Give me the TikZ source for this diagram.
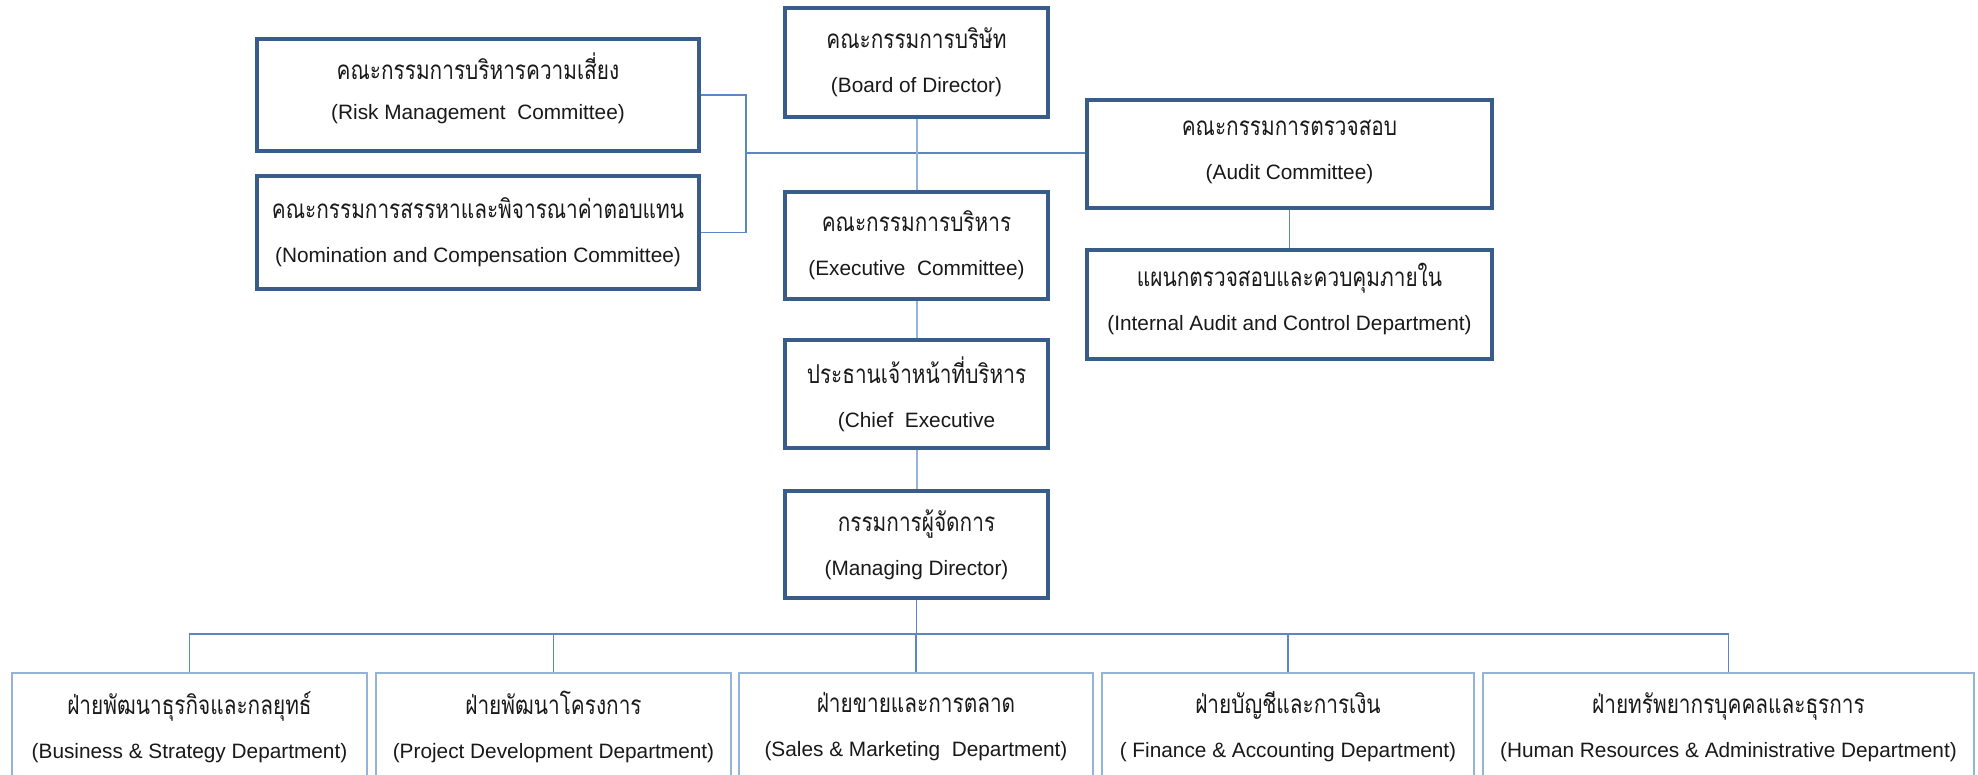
\documentclass[tikz,border=0pt]{standalone}
\usepackage{fontspec}
\setmainfont{Liberation Sans}
\newfontfamily\thai[Script=Thai,Scale=1.25,FakeStretch=0.8]{Loma}
\definecolor{darkb}{HTML}{385D8A}
\definecolor{lightb}{HTML}{95B3D7}
\definecolor{connc}{HTML}{5B88C4}
\newcommand\orgfont{\fontsize{10.4}{22}\selectfont}
\tikzset{
  topbox/.style={draw=darkb, line width=1.7pt, fill=white, inner sep=0pt, align=center, font=\orgfont, text=black!90},
  deptbox/.style={draw=lightb, line width=1.2pt, fill=white, inner sep=0pt, align=center, font=\orgfont, minimum height=54pt, text=black!90},
  raised/.style={text depth=#1},
  conn/.style={draw=connc, line width=0.6pt},
  connl/.style={draw=lightb, line width=1pt}
}
\begin{document}
\begin{tikzpicture}[x=0.5pt,y=-0.5pt]
\useasboundingbox (0,0) rectangle (1978,775);
\fill[white] (0,0) rectangle (1978,775);
% top boxes
\node[topbox, minimum width=131.5pt, minimum height=54.5pt] (board) at (916.5,62.5) {{\thai คณะกรรมการบริษัท}\\(Board of Director)};
\node[topbox, minimum width=131.5pt, minimum height=53.5pt] (exec) at (916.5,245.5) {{\thai คณะกรรมการบริหาร}\\(Executive~~Committee)};
\node[topbox, minimum width=131.5pt, minimum height=54pt] (ceo) at (916.5,394) {{\thai ประธานเจ้าหน้าที่บริหาร}\\(Chief~~Executive};
\node[topbox, minimum width=131.5pt, minimum height=53.5pt] (md) at (916.5,544.5) {{\thai กรรมการผู้จัดการ}\\(Managing Director)};
\node[topbox, raised=9pt, minimum width=221pt, minimum height=56pt] (risk) at (478,95) {{\thai คณะกรรมการบริหารความเสี่ยง}\\[-2pt](Risk Management~ Committee)};
\node[topbox, minimum width=221pt, minimum height=56.5pt] (nom) at (478,232.5) {{\thai คณะกรรมการสรรหาและพิจารณาค่าตอบแทน}\\(Nomination and Compensation Committee)};
\node[topbox, raised=4pt, minimum width=202.5pt, minimum height=54pt] (audit) at (1289.5,154) {{\thai คณะกรรมการตรวจสอบ}\\(Audit Committee)};
\node[topbox, raised=7.5pt, minimum width=202.5pt, minimum height=54.5pt] (ia) at (1289.5,304.5) {{\thai แผนกตรวจสอบและควบคุมภายใน}\\(Internal Audit and Control Department)};
% departments
\node[deptbox, minimum width=177.5pt] (d1) at (189.5,727) {{\thai ฝ่ายพัฒนาธุรกิจและกลยุทธ์}\\(Business \& Strategy Department)};
\node[deptbox, minimum width=177.5pt] (d2) at (553.5,727) {{\thai ฝ่ายพัฒนาโครงการ}\\(Project Development Department)};
\node[deptbox, minimum width=177pt] (d3) at (916,727) {{\thai ฝ่ายขายและการตลาด}\\(Sales \& Marketing~~Department)};
\node[deptbox, minimum width=186pt] (d4) at (1288,727) {{\thai ฝ่ายบัญชีและการเงิน}\\( Finance \& Accounting Department)};
\node[deptbox, minimum width=245.5pt] (d5) at (1728.5,727) {{\thai ฝ่ายทรัพยากรบุคคลและธุรการ}\\(Human Resources \& Administrative Department)};
% connectors
\coordinate (jn) at (746,153);
\coordinate (bus) at (916.5,634);
\draw[conn] (risk.east) -| (jn) |- (nom.east);
\draw[conn] (jn) -- (jn -| audit.west);
\draw[connl] (board.south) -- (exec.north);
\draw[connl] (exec.south) -- (ceo.north);
\draw[connl] (ceo.south) -- (md.north);
\draw[conn] (audit.south) -- (ia.north);
\draw[conn] (md.south) -- (bus);
\foreach \d in {d1,d2,d3,d4,d5} \draw[conn] (\d.north) |- (bus);
\end{tikzpicture}
\end{document}
